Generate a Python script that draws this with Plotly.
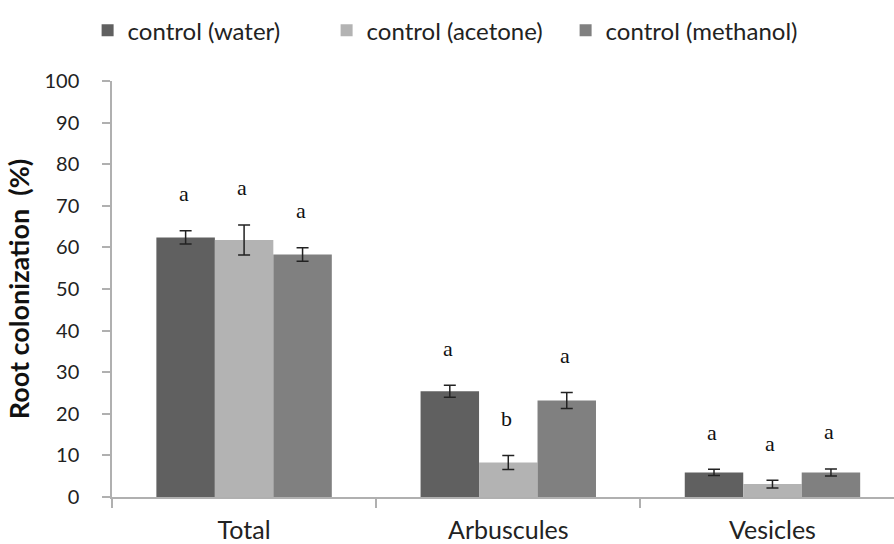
import plotly.graph_objects as go

# Root colonization by AM fungi under three solvent controls
categories = ["Total", "Arbuscules", "Vesicles"]
series_names = ["control (water)", "control (acetone)", "control (methanol)"]
water = [62.4, 25.4, 5.9]
acetone = [61.8, 8.3, 3.1]
methanol = [58.3, 23.2, 5.9]
water_err = [1.6, 1.45, 0.75]
acetone_err = [3.6, 1.7, 0.95]
methanol_err = [1.6, 1.9, 0.85]
water_letters = ["a", "a", "a"]
acetone_letters = ["a", "b", "a"]
methanol_letters = ["a", "a", "a"]

colors = ["#606060", "#b3b3b3", "#808080"]
values = [water, acetone, methanol]
errors = [water_err, acetone_err, methanol_err]
letters = [water_letters, acetone_letters, methanol_letters]

sans = "Lato, 'Open Sans', sans-serif"
serif = "'Liberation Serif', 'DejaVu Serif', serif"

fig = go.Figure()
for name, vals, errs, col in zip(series_names, values, errors, colors):
    fig.add_trace(go.Bar(
        x=categories, y=vals, name=name,
        marker=dict(color=col, line=dict(width=0)),
        error_y=dict(type="data", array=errs, visible=True,
                     color="#222222", thickness=1.5, width=6),
    ))

# significance letters above each error bar
bargap = 0.336
bar_w = (1 - bargap) / 3
for k, (vals, errs, lets) in enumerate(zip(values, errors, letters)):
    for i, (v, e, t) in enumerate(zip(vals, errs, lets)):
        fig.add_annotation(
            x=i + (k - 1) * bar_w, y=v + e, text=t, showarrow=False,
            xref="x", yref="y", yanchor="middle", yshift=37, xshift=-2,
            font=dict(family=serif, size=22, color="#111111"),
        )

fig.update_layout(
    width=894, height=544,
    margin=dict(l=112, r=0, t=81, b=47, autoexpand=False),
    paper_bgcolor="white", plot_bgcolor="white",
    barmode="group", bargap=bargap, bargroupgap=0,
    showlegend=True,
    legend=dict(orientation="h", xref="container", x=0.098, xanchor="left",
                yref="container", y=0.985, yanchor="top",
                font=dict(family=sans, size=24, color="#222222"),
                traceorder="normal", itemwidth=30,
                entrywidth=194, entrywidthmode="pixels"),
    font=dict(family=sans, color="#222222"),
)
fig.update_xaxes(
    type="category", range=[-0.5, 2.46],
    showline=True, linecolor="#b0b0b0", linewidth=1.5,
    ticks="outside", tickson="boundaries", ticklen=9, tickcolor="#b0b0b0", tickwidth=1.5,
    tickfont=dict(family=sans, size=25, color="#222222"),
    ticklabelstandoff=10,
    showgrid=False, zeroline=False,
)
fig.update_yaxes(
    range=[0, 100], dtick=10, tick0=0,
    showline=True, linecolor="#b0b0b0", linewidth=1.5,
    ticks="outside", ticklen=8, tickcolor="#b0b0b0", tickwidth=1.5,
    tickfont=dict(family=sans, size=20, color="#222222"),
    ticklabelstandoff=19,
    showgrid=False, zeroline=False,
    title=dict(text="<b>Root colonization  (%)</b>", standoff=7,
               font=dict(family=sans, size=27, color="#111111")),
)

fig.write_html("out.html")
